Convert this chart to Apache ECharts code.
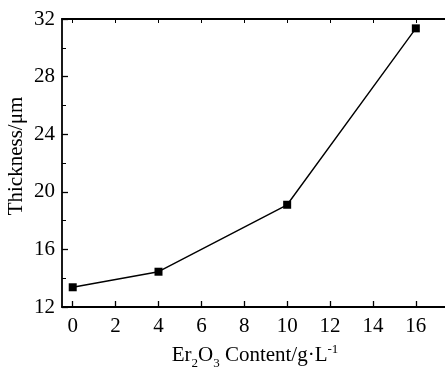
<!DOCTYPE html>
<html>
<head>
<meta charset="utf-8">
<script src="https://cdn.jsdelivr.net/npm/echarts@6/dist/echarts.min.js"></script>
<style>
  html, body { margin: 0; padding: 0; background: #fff; }
  #chart { width: 445px; height: 370px; }
</style>
</head>
<body>
<div id="chart"></div>
<script>
var contents = [0, 4, 10, 16];
var thickness = [13.37, 14.45, 19.1, 31.35];
var xTicks = [0, 2, 4, 6, 8, 10, 12, 14, 16];

var chart = echarts.init(document.getElementById('chart'));
var font = '"Liberation Serif", "Times New Roman", serif';
var points = contents.map(function (c, i) { return [c, thickness[i]]; });

var option = {
    animation: false,
    grid: { left: 62, top: 19, right: -3, bottom: 63, outerBoundsMode: 'none', containLabel: false },
    xAxis: [
        {
            type: 'value',
            min: -0.5,
            max: 17.5,
            position: 'bottom',
            name: '{t|Er}{sub|2}{t|O}{sub|3}{t| Content/g·L}{sup|-1}',
            nameLocation: 'middle',
            nameGap: 34,
            nameTextStyle: {
                fontFamily: font,
                fontSize: 21,
                color: '#000',
                rich: {
                    t: { fontFamily: font, fontSize: 21, color: '#000' },
                    sub: { fontFamily: font, fontSize: 13, color: '#000', padding: [16, 0, 0, 0] },
                    sup: { fontFamily: font, fontSize: 13, color: '#000', padding: [0, 0, 12, 0] }
                }
            },
            axisLine: { onZero: false, lineStyle: { color: '#000', width: 1.8 } },
            axisTick: { inside: true, length: 6, customValues: xTicks, lineStyle: { color: '#000', width: 1.3 } },
            axisLabel: { customValues: xTicks, fontFamily: font, fontSize: 21, color: '#000', margin: 9 },
            splitLine: { show: false }
        },
        {
            type: 'value',
            min: -0.5,
            max: 17.5,
            position: 'top',
            axisLine: { onZero: false, lineStyle: { color: '#000', width: 1.8 } },
            axisTick: { inside: true, length: 4, customValues: xTicks, lineStyle: { color: '#000', width: 1 } },
            axisLabel: { show: false },
            splitLine: { show: false }
        }
    ],
    yAxis: [
        {
            type: 'value',
            min: 12,
            max: 32,
            interval: 4,
            name: 'Thickness/μm',
            nameLocation: 'middle',
            nameGap: 35,
            nameMoveOverlap: false,
            nameTextStyle: { fontFamily: font, fontSize: 21, color: '#000', padding: [0, 0, 0, 14] },
            axisLine: { onZero: false, lineStyle: { color: '#000', width: 1.8 } },
            axisTick: { inside: true, length: 6, lineStyle: { color: '#000', width: 1.3 } },
            minorTick: { show: true, splitNumber: 2, length: 4, lineStyle: { color: '#000', width: 1 } },
            axisLabel: { fontFamily: font, fontSize: 21, color: '#000', margin: 7 },
            splitLine: { show: false }
        }
    ],
    series: [
        {
            type: 'line',
            data: points,
            symbol: 'rect',
            symbolSize: 8,
            lineStyle: { color: '#000', width: 1.4 },
            itemStyle: { color: '#000' }
        }
    ]
};
chart.setOption(option);
</script>
</body>
</html>
